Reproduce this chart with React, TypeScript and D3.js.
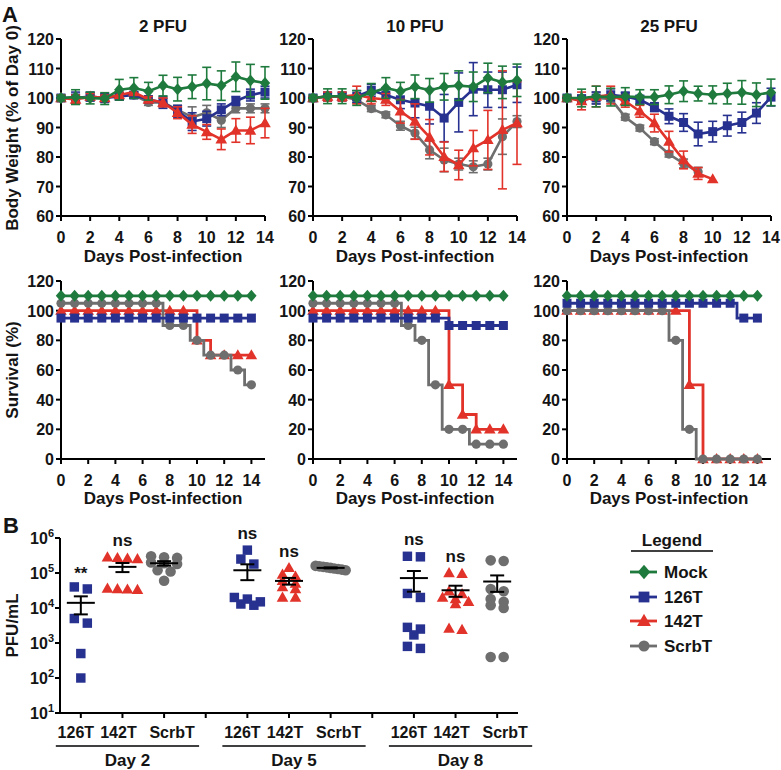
import React from 'react';
import * as d3 from 'd3';

// ---------- DATA ----------
const doseTitles = ['2 PFU', '10 PFU', '25 PFU'];
const seriesNames = ['Mock', '126T', '142T', 'ScrbT'];
const weightTicks = [60, 70, 80, 90, 100, 110, 120];
const survTicks = [0, 20, 40, 60, 80, 100, 120];
const dayTicks = [0, 2, 4, 6, 8, 10, 12, 14];

// Body weight (% of day 0), days 0..n
const wMock_2 = [100, 100.3, 100, 99.8, 102.8, 103.4, 102.3, 104.2, 103, 103.8, 104.9, 104.2, 107.2, 105.9, 105.1];
const wMock_2e = [1, 2.5, 2, 2, 3.5, 3.5, 3, 3.5, 4, 4, 5.5, 5, 5, 5.5, 5.5];
const w126_2 = [100, 100, 100.5, 100, 100.5, 101, 99.5, 98.5, 95.5, 92, 93, 96, 99, 101, 102];
const w126_2e = [0.8, 2, 1.5, 1.5, 1, 1, 1, 2, 2, 3, 2.5, 2, 1.5, 2, 2];
const w142_2 = [100, 99.5, 100.5, 100, 101, 102, 99.5, 98.5, 95, 91, 88.5, 86, 89, 89, 91.5];
const w142_2e = [1, 1.5, 1, 1, 1, 1, 1, 1.5, 2, 3, 2.5, 3.5, 4, 4.5, 5];
const wScrb_2 = [100, 100, 100, 100, 101, 101, 98.5, 98.5, 96, 93.5, 95, 92.5, 96.5, 96.5, 96.5];
const wScrb_2e = [0.5, 1, 1, 1, 1, 1, 1, 1.5, 1.5, 3.5, 2.5, 2.5, 1.5, 1.5, 1.5];

const wMock_10 = [100, 100.6, 100.6, 100, 101.9, 103.4, 102.3, 103.8, 102.6, 103.8, 104.2, 103.8, 106.8, 105.3, 106];
const wMock_10e = [1, 2.5, 2.5, 2.5, 3, 3.5, 3, 4, 4, 4.5, 5, 5, 5, 5.5, 5.5];
const w126_10 = [100, 100.5, 100.5, 100.5, 102.6, 101, 99.4, 98.3, 97.2, 93.2, 98.5, 103, 102.8, 102.8, 104.5];
const w126_10e = [0.5, 1.5, 1.5, 2, 2, 2.5, 3, 5, 6, 8, 10, 9, 6, 6, 6];
const w142_10 = [100, 100.5, 100.5, 101, 100, 99.5, 95.5, 92, 86.7, 80.1, 77.3, 83, 85.8, 89.2, 91.5];
const w142_10e = [0.5, 1.5, 1.5, 3, 2, 2, 4, 6, 6, 5, 5, 6, 10, 20, 14];
const wScrb_10 = [100, 100.5, 100.5, 99.4, 96.4, 94.3, 90.6, 88.1, 82.4, 79, 77.6, 76.7, 77.6, 86.9, 92];
const wScrb_10e = [0.5, 1, 1, 1, 1, 1, 1.5, 2, 3, 4, 2, 2, 2, 6, 2];

const wMock_25 = [100, 100, 100.5, 100.3, 100.5, 100.3, 100.3, 101.1, 102.3, 101.5, 101.1, 101.5, 101.9, 101.1, 101.9];
const wMock_25e = [1, 3, 3.5, 3, 3, 2.5, 2.5, 3, 3.5, 2.5, 3, 3.5, 4, 4, 4.5];
const w126_25 = [100, 99.5, 100, 101.1, 100.5, 99.4, 96.9, 93.8, 91.7, 87.8, 88.6, 90.6, 91.7, 94.9, 100.3];
const w126_25e = [0.5, 1.5, 2, 2, 1.5, 1.5, 1.5, 2.5, 3, 4, 3.5, 3.5, 3.5, 3.5, 3];
const w142_25 = [100, 99, 100.5, 101, 98.9, 95.5, 91.5, 85.2, 79, 74.4, 72.5];
const w142_25e = [0.5, 3, 3.5, 3, 2, 2, 3, 3.5, 3, 2, 0];
const wScrb_25 = [100, 99.5, 100, 99.7, 93.5, 89.8, 85.2, 81, 77.8, 75];
const wScrb_25e = [0.5, 1.5, 2, 1, 1, 1, 1, 1, 1.5, 1.5];

// Survival (%): [day of change, value from then on]
const sMock_2 = [[0, 110]];
const s126_2 = [[0, 95]];
const s142_2 = [[0, 100], [10, 80], [11, 70]];
const sScrb_2 = [[0, 105], [7.5, 90], [9.5, 80], [10.5, 70], [12.5, 60], [13.5, 50]];

const sMock_10 = [[0, 110]];
const s126_10 = [[0, 95], [10, 90]];
const s142_10 = [[0, 100], [10, 50], [11, 30], [12, 20]];
const sScrb_10 = [[0, 105], [6.5, 90], [7.5, 80], [8.5, 50], [9.5, 20], [11.5, 10]];

const sMock_25 = [[0, 110]];
const s126_25 = [[0, 105], [12.5, 95]];
const s142_25 = [[0, 100], [9, 50], [10, 0]];
const sScrb_25 = [[0, 100], [7.5, 80], [8.5, 20], [9.5, 0]];

// Panel B: PFU/mL
const bCats = ['126T', '142T', 'ScrbT'];
const bDays = ['Day 2', 'Day 5', 'Day 8'];
const b126_d2 = [4e4, 3.5e4, 5e3, 3.7e3, 500, 100];
const b142_d2 = [2.8e5, 2.7e5, 2.6e5, 2.5e5, 3.6e4, 3.5e4, 3.4e4, 3.3e4];
const bScrb_d2 = [3e5, 2.8e5, 2.7e5, 2e5, 1.9e5, 1.8e5, 1.2e5, 1.1e5, 6e4];
const b126_d5 = [4.5e5, 2.5e5, 1.8e5, 2e4, 1.8e4, 1.5e4, 1.3e4, 1.2e4];
const b142_d5 = [1.4e5, 9e4, 8e4, 6e4, 5e4, 4e4, 3.5e4, 2e4, 2e4];
const bScrb_d5 = [1.6e5, 1.55e5, 1.5e5, 1.45e5, 1.4e5, 1.35e5, 1.3e5, 1.25e5, 1.2e5];
const b126_d8 = [3e5, 2.9e5, 2.6e4, 2e4, 2.8e3, 2.5e3, 1.7e3, 8e2, 7e2];
const b142_d8 = [1e5, 9.5e4, 3e4, 2.5e4, 2e4, 1.8e4, 1.5e4, 1.3e4, 2.6e3, 2.4e3];
const bScrb_d8 = [2.3e5, 2.2e5, 3.5e4, 3e4, 1.8e4, 1.5e4, 1.2e4, 1e4, 4e2, 4e2];
const sig_d2 = ['**', 'ns', ''];
const sig_d5 = ['ns', 'ns', ''];
const sig_d8 = ['ns', 'ns', ''];
const bTicks = [1e1, 1e2, 1e3, 1e4, 1e5, 1e6];

// ---------- STYLE ----------
const FONT = "'Liberation Sans', Arial, Helvetica, sans-serif";
const COLORS: Record<string, string> = { Mock: '#1f7a3d', '126T': '#27318f', '142T': '#e1332a', ScrbT: '#6e6e6e' };
const SHAPES: Record<string, string> = { Mock: 'diamond', '126T': 'square', '142T': 'triangle', ScrbT: 'circle' };
const TXT = '#141414';
const COL_LEFT = [61, 313, 567];
const PW = 204;
const CAT_DX = [-5, -4, 8];

function markerPath(shape: string, s = 1) {
  if (shape === 'diamond') return `M0,${-6 * s}L${5.2 * s},0L0,${6 * s}L${-5.2 * s},0Z`;
  if (shape === 'square') return `M${-4.5 * s},${-4.5 * s}h${9 * s}v${9 * s}h${-9 * s}Z`;
  if (shape === 'triangle') return `M0,${-6 * s}L${5.8 * s},${4.2 * s}L${-5.8 * s},${4.2 * s}Z`;
  const r = 4.6 * s;
  return `M${r},0A${r},${r} 0 1,1 ${-r},0A${r},${r} 0 1,1 ${r},0Z`;
}

function Marker({ name, x, y, s = 1 }: { name: string; x: number; y: number; s?: number }) {
  return <path d={markerPath(SHAPES[name], s)} transform={`translate(${x},${y})`} fill={COLORS[name]} />;
}

const weightData = [
  { Mock: [wMock_2, wMock_2e], '126T': [w126_2, w126_2e], '142T': [w142_2, w142_2e], ScrbT: [wScrb_2, wScrb_2e] },
  { Mock: [wMock_10, wMock_10e], '126T': [w126_10, w126_10e], '142T': [w142_10, w142_10e], ScrbT: [wScrb_10, wScrb_10e] },
  { Mock: [wMock_25, wMock_25e], '126T': [w126_25, w126_25e], '142T': [w142_25, w142_25e], ScrbT: [wScrb_25, wScrb_25e] },
];
const survData = [
  { Mock: sMock_2, '126T': s126_2, '142T': s142_2, ScrbT: sScrb_2 },
  { Mock: sMock_10, '126T': s126_10, '142T': s142_10, ScrbT: sScrb_10 },
  { Mock: sMock_25, '126T': s126_25, '142T': s142_25, ScrbT: sScrb_25 },
];
const weightOrder = ['ScrbT', '126T', '142T', 'Mock'];
const survOrder = ['142T', 'ScrbT', '126T', 'Mock'];

function WeightPanel({ col }: { col: number }) {
  const left = COL_LEFT[col];
  const x = d3.scaleLinear().domain([0, 14]).range([left, left + PW]);
  const y = d3.scaleLinear().domain([60, 120]).range([216, 39]);
  const line = d3.line<number>().x((_, i) => x(i)).y((d) => y(d));
  const data: any = weightData[col];
  return (
    <g>
      <text x={x(7)} y={32} textAnchor="middle" fontSize={17}>{doseTitles[col]}</text>
      <line x1={left} x2={left} y1={y(120)} y2={y(60)} stroke="#000" strokeWidth={2} />
      <line x1={left} x2={left + PW} y1={y(60)} y2={y(60)} stroke="#000" strokeWidth={2} />
      {weightTicks.map((t) => (
        <g key={t}>
          <line x1={left - 5} x2={left} y1={y(t)} y2={y(t)} stroke="#000" strokeWidth={2} />
          <text x={left - 7} y={y(t) + 6} textAnchor="end" fontSize={16}>{t}</text>
        </g>
      ))}
      {dayTicks.map((t) => (
        <g key={t}>
          <line x1={x(t)} x2={x(t)} y1={y(60)} y2={y(60) + 5} stroke="#000" strokeWidth={2} />
          <text x={x(t)} y={y(60) + 26.5} textAnchor="middle" fontSize={16}>{t}</text>
        </g>
      ))}
      <text x={left + PW / 2} y={y(60) + 46} textAnchor="middle" fontSize={17}>Days Post-infection</text>
      {weightOrder.map((name) => {
        const [vals, errs] = data[name] as number[][];
        const c = COLORS[name];
        return (
          <g key={name}>
            {vals.map((v, i) =>
              errs[i] > 0 ? (
                <g key={i} stroke={c} strokeWidth={1.6}>
                  <line x1={x(i)} x2={x(i)} y1={y(v + errs[i])} y2={y(v - errs[i])} />
                  <line x1={x(i) - 4.5} x2={x(i) + 4.5} y1={y(v + errs[i])} y2={y(v + errs[i])} />
                  <line x1={x(i) - 4.5} x2={x(i) + 4.5} y1={y(v - errs[i])} y2={y(v - errs[i])} />
                </g>
              ) : null
            )}
            <path d={line(vals) || ''} fill="none" stroke={c} strokeWidth={2.6} strokeLinejoin="round" />
            {vals.map((v, i) => (
              <Marker key={i} name={name} x={x(i)} y={y(v)} />
            ))}
          </g>
        );
      })}
    </g>
  );
}

function SurvPanel({ col }: { col: number }) {
  const left = COL_LEFT[col];
  const x = d3.scaleLinear().domain([0, 15]).range([left, left + PW]);
  const y = d3.scaleLinear().domain([0, 120]).range([459, 281]);
  const line = d3.line<number[]>().x((d) => x(d[0])).y((d) => y(d[1])).curve(d3.curveStepAfter);
  const data: any = survData[col];
  const days = d3.range(0, 15);
  return (
    <g>
      <line x1={left} x2={left} y1={y(120)} y2={y(0)} stroke="#000" strokeWidth={2} />
      <line x1={left} x2={left + PW} y1={y(0)} y2={y(0)} stroke="#000" strokeWidth={2} />
      {survTicks.map((t) => (
        <g key={t}>
          <line x1={left - 5} x2={left} y1={y(t)} y2={y(t)} stroke="#000" strokeWidth={2} />
          <text x={left - 7} y={y(t) + 6} textAnchor="end" fontSize={16}>{t}</text>
        </g>
      ))}
      {dayTicks.map((t) => (
        <g key={t}>
          <line x1={x(t)} x2={x(t)} y1={y(0)} y2={y(0) + 5} stroke="#000" strokeWidth={2} />
          <text x={x(t)} y={y(0) + 26.5} textAnchor="middle" fontSize={16}>{t}</text>
        </g>
      ))}
      <text x={left + PW / 2} y={y(0) + 45} textAnchor="middle" fontSize={17}>Days Post-infection</text>
      {survOrder.map((name) => {
        const ev: number[][] = data[name];
        const pts = [...ev, [14, ev[ev.length - 1][1]]];
        const valAt = (d: number) => {
          let v = ev[0][1];
          ev.forEach((e) => { if (e[0] <= d + 1e-9) v = e[1]; });
          return v;
        };
        return (
          <g key={name}>
            <path d={line(pts) || ''} fill="none" stroke={COLORS[name]} strokeWidth={2.8} />
            {days.map((d) => (
              <Marker key={d} name={name} x={x(d)} y={y(valAt(d))} />
            ))}
          </g>
        );
      })}
    </g>
  );
}

const bGroups = [
  [b126_d2, b142_d2, bScrb_d2],
  [b126_d5, b142_d5, bScrb_d5],
  [b126_d8, b142_d8, bScrb_d8],
];
const bSig = [sig_d2, sig_d5, sig_d8];

function swarm(vals: number[], yS: (v: number) => number) {
  const pts = vals.map((v) => ({ v, y: yS(v), dx: 0 })).sort((a, b) => a.y - b.y);
  const rows: typeof pts[] = [];
  let cur: typeof pts = [];
  pts.forEach((p) => {
    if (cur.length && p.y - cur[0].y > 6) { rows.push(cur); cur = []; }
    cur.push(p);
  });
  if (cur.length) rows.push(cur);
  rows.forEach((r) => {
    const n = r.length;
    const sp = n > 1 ? Math.min(13, 30 / (n - 1)) : 0;
    r.forEach((p, i) => { p.dx = (i - (n - 1) / 2) * sp; });
  });
  return pts;
}

function PanelB() {
  const x = d3.scaleLinear().domain([-0.5, 10.5]).range([60, 518]);
  const y = d3.scaleLog().domain([10, 1e6]).range([713, 538]);
  const slots = d3.range(0, 11);
  return (
    <g>
      <line x1={60} x2={60} y1={y(1e6)} y2={y(10)} stroke="#000" strokeWidth={2} />
      <line x1={60} x2={518} y1={y(10)} y2={y(10)} stroke="#000" strokeWidth={2} />
      {bTicks.map((t) => (
        <g key={t}>
          <line x1={55} x2={60} y1={y(t)} y2={y(t)} stroke="#000" strokeWidth={2} />
          <text x={54} y={y(t) + 6} textAnchor="end" fontSize={16}>
            10<tspan dy={-7} fontSize={11}>{Math.round(Math.log10(t))}</tspan>
          </text>
        </g>
      ))}
      {slots.map((s) => (
        <line key={s} x1={x(s)} x2={x(s)} y1={y(10)} y2={y(10) + 5} stroke="#000" strokeWidth={2} />
      ))}
      <text transform={`translate(18,${(y(1e6) + y(10)) / 2}) rotate(-90)`} textAnchor="middle" fontSize={17}>PFU/mL</text>
      {bGroups.map((grp, gi) => {
        const start = gi * 4;
        return (
          <g key={gi}>
            {grp.map((vals, ci) => {
              const name = bCats[ci];
              const cx = x(start + ci);
              const pts = swarm(vals, (v) => y(v));
              const m = d3.mean(vals) as number;
              const sem = (d3.deviation(vals) as number) / Math.sqrt(vals.length);
              const sig = bSig[gi][ci];
              return (
                <g key={ci}>
                  {pts.map((p, i) => (
                    <Marker key={i} name={name} x={cx + p.dx} y={p.y} s={name === 'ScrbT' ? 1.15 : name === '142T' ? 1.0 : 1.05} />
                  ))}
                  <g stroke="#000" strokeWidth={2}>
                    <line x1={cx - 14} x2={cx + 14} y1={y(m)} y2={y(m)} />
                    <line x1={cx} x2={cx} y1={y(m + sem)} y2={y(m - sem)} />
                    <line x1={cx - 7} x2={cx + 7} y1={y(m + sem)} y2={y(m + sem)} />
                    <line x1={cx - 7} x2={cx + 7} y1={y(m - sem)} y2={y(m - sem)} />
                  </g>
                  {sig ? (
                    <text x={cx} y={y(d3.max(vals) as number) - (sig === '**' ? 8 : 11)} textAnchor="middle" fontSize={17}>{sig}</text>
                  ) : null}
                  <text x={cx + CAT_DX[ci]} y={738} textAnchor="middle" fontSize={16}>{name}</text>
                </g>
              );
            })}
            <line x1={x(start) - 25} x2={x(start + 2) + 35} y1={746} y2={746} stroke="#000" strokeWidth={1.5} />
            <text x={(x(start) - 25 + x(start + 2) + 35) / 2} y={766} textAnchor="middle" fontSize={17}>{bDays[gi]}</text>
          </g>
        );
      })}
    </g>
  );
}

function Legend() {
  const ys = [572, 597, 621, 646];
  return (
    <g>
      <text x={672} y={546} textAnchor="middle" fontSize={17}>Legend</text>
      <line x1={631} x2={713} y1={551} y2={551} stroke="#000" strokeWidth={1.5} />
      {seriesNames.map((n, i) => (
        <g key={n}>
          <line x1={630} x2={657} y1={ys[i]} y2={ys[i]} stroke={COLORS[n]} strokeWidth={2.8} />
          <Marker name={n} x={644} y={ys[i]} s={1.2} />
          <text x={664} y={ys[i] + 6} fontSize={17}>{n}</text>
        </g>
      ))}
    </g>
  );
}

export default function App() {
  return (
    <svg
      width={781}
      height={770}
      viewBox="0 0 781 770"
      style={{ position: 'absolute', left: 0, top: 0, background: '#fff' }}
      fontFamily={FONT}
      fontWeight="bold"
      fill={TXT}
    >
      <rect x={0} y={0} width={781} height={770} fill="#fff" />
      <text x={2} y={22} fontSize={22}>A</text>
      <text x={3} y={533} fontSize={22}>B</text>
      <text transform="translate(18,128) rotate(-90)" textAnchor="middle" fontSize={17}>Body Weight (% of Day 0)</text>
      <text transform="translate(18,370) rotate(-90)" textAnchor="middle" fontSize={17}>Survival (%)</text>
      {[0, 1, 2].map((c) => (
        <WeightPanel key={`w${c}`} col={c} />
      ))}
      {[0, 1, 2].map((c) => (
        <SurvPanel key={`s${c}`} col={c} />
      ))}
      <PanelB />
      <Legend />
    </svg>
  );
}
